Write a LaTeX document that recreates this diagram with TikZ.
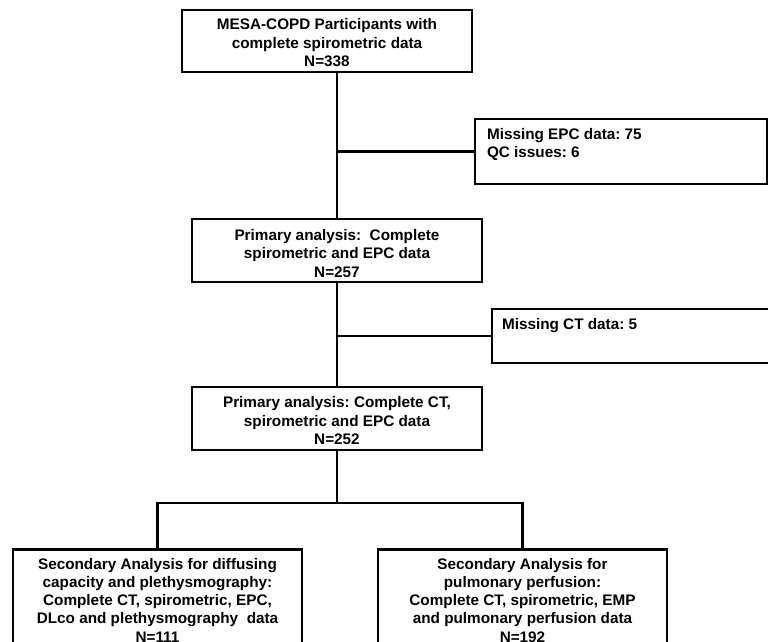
\documentclass[tikz,border=0pt]{standalone}
\usepackage{fontspec}
\setmainfont{Liberation Sans}
\frenchspacing
\begin{document}
\begin{tikzpicture}[x=1pt,y=-1pt,
  txt/.style={font=\fontsize{15.3pt}{18.6pt}\selectfont\bfseries\frenchspacing},
  mainbox/.style={txt, draw, line width=2.9pt, minimum width=290pt, inner sep=0pt, fill=white},
  sidebox/.style={txt, draw, line width=2.9pt, inner sep=0pt, fill=white},
  botbox/.style={draw, line width=2.9pt, align=center, minimum width=289pt, inner xsep=2pt, inner ysep=8.5pt, anchor=north, fill=white, font=\fontsize{15.3pt}{18.3pt}\selectfont\bfseries\frenchspacing},
  conn/.style={line width=2.1pt}]
\useasboundingbox (0,0) rectangle (768,641);
\fill[white] (0,0) rectangle (768,641);
\clip (0,0) rectangle (768,641);

\node[mainbox] (top) at (327,41)
  {\parbox[c][62pt][t]{286pt}{\centering\vspace*{8.5pt}MESA-COPD Participants with\\complete spirometric data\\N=338}};
\node[mainbox] (prim1) at (337,250.5)
  {\parbox[c][63pt][t]{286pt}{\centering\vspace*{10pt}Primary analysis:~ Complete\\spirometric and EPC data\\N=257}};
\node[mainbox] (prim2) at (337,418.5)
  {\parbox[c][63pt][t]{286pt}{\centering\vspace*{9.5pt}Primary analysis: Complete CT,\\spirometric and EPC data\\N=252}};
\node[sidebox] (exc1) at (621,151.5)
  {\parbox[c][65pt][t]{292pt}{\hspace*{12pt}\parbox[t]{270pt}{\raggedright\vspace*{9pt}Missing EPC data: 75\\QC issues: 6}}};
\node[sidebox] (exc2) at (637,336)
  {\parbox[c][54pt][t]{290pt}{\hspace*{10pt}\parbox[t]{270pt}{\raggedright\vspace*{9pt}Missing CT data: 5}}};
\node[botbox] (sec1) at (157.5,548) {Secondary Analysis for diffusing\\capacity and plethysmography:\\Complete CT, spirometric, EPC,\\DLco and plethysmography~ data\\N=111};
\node[botbox] (sec2) at (522.5,548) {Secondary Analysis for\\pulmonary perfusion:\\Complete CT, spirometric, EMP\\and pulmonary perfusion data\\N=192};

\draw[conn] (prim1.north) -- (prim1.north |- top.south);
\draw[conn] (exc1.west) -- (exc1.west -| prim1.north);
\draw[conn] (prim2.north) -- (prim1.south);
\draw[conn] (exc2.west) -- (exc2.west -| prim1.south);
\coordinate (split) at (337,503);
\draw[conn] (prim2.south) -- (split);
\draw[conn] (sec1.north) -- (sec1.north |- split) -- (sec2.north |- split) -- (sec2.north);
\end{tikzpicture}
\end{document}
